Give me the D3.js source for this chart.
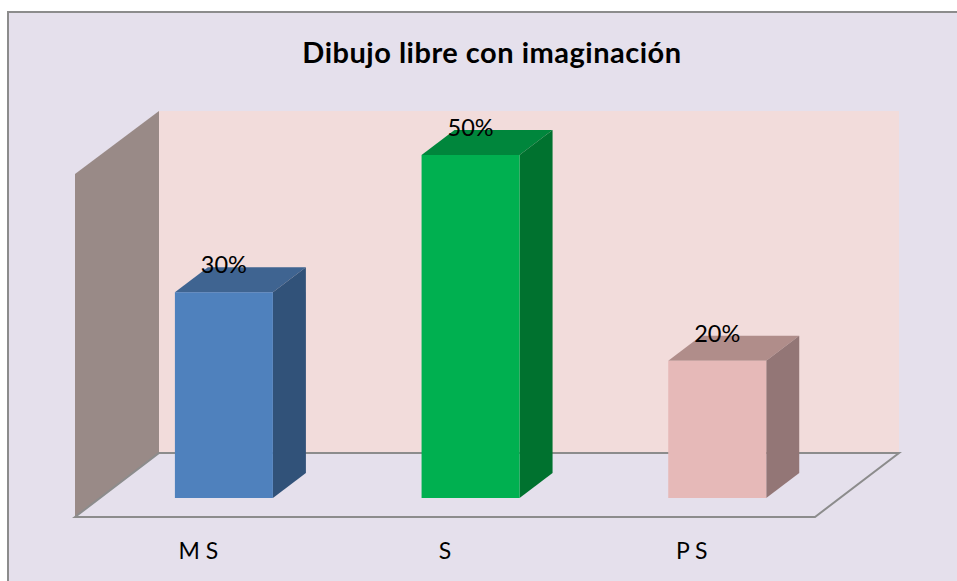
<!DOCTYPE html>
<html>
<head>
<meta charset="utf-8">
<script src="https://cdn.jsdelivr.net/npm/d3@7"></script>
<style>
  html, body { margin: 0; padding: 0; background: #e5e0ec; }
  svg { display: block; font-family: Lato, sans-serif; }
</style>
</head>
<body>
<svg id="chart" width="957" height="581"></svg>
<script>
let categories = ["M S", "S", "P S"];
let values = [30, 50, 20];
let barColors = ["#4f81bd", "#00b050", "#e6b9b8"];
let topColors = ["#3f6491", "#00863c", "#b08d8a"];
let sideColors = ["#315279", "#00722f", "#937676"];
let chartTitle = "Dibujo libre con imaginación";

let svg = d3.select("#chart");

// chart area, only the top and left edges of the frame are in the picture
svg.append("rect")
    .attr("width", 957).attr("height", 581)
    .attr("fill", "#fff");
svg.append("rect")
    .attr("x", 8).attr("y", 12)
    .attr("width", 949).attr("height", 569)
    .attr("fill", "#e5e0ec");
svg.append("path")
    .attr("d", d3.line()([[8, 581], [8, 12], [957, 12]]))
    .attr("fill", "none").attr("stroke", "#8c8c8c").attr("stroke-width", 2);

svg.append("text")
    .attr("x", 492).attr("y", 62.5)
    .attr("text-anchor", "middle")
    .attr("font-size", 29).attr("font-weight", 700)
    .attr("letter-spacing", 0.5)
    .attr("fill", "#000")
    .text(chartTitle);

// 3d offset of the back wall from the front plane
let depthX = 84;
let barDepthX = 33, barDepthY = -25;

let x = d3.scaleBand().domain(categories).range([75, 815]);
let yFront = d3.scaleLinear().domain([0, 50]).range([517, 174]);
let yBack = d3.scaleLinear().domain([0, 50]).range([453, 111]);
let yBar = d3.scaleLinear().domain([0, 50]).range([498, 155]);

let line = d3.line();
let x0 = x.range()[0], x1 = x.range()[1];

// back wall
svg.append("path")
    .attr("d", line([[x0 + depthX, yBack(50)], [x1 + depthX, yBack(50)], [x1 + depthX, yBack(0)], [x0 + depthX, yBack(0)]]) + "Z")
    .attr("fill", "#f2dcdb");

// side wall
svg.append("path")
    .attr("d", line([[x0, yFront(50)], [x0 + depthX, yBack(50)], [x0 + depthX, yBack(0)], [x0, yFront(0)]]) + "Z")
    .attr("fill", "#998a87");

// floor outline
svg.append("path")
    .attr("d", line([[x0, yFront(0)], [x0 + depthX, yBack(0)], [x1 + depthX, yBack(0)], [x1, yFront(0)]]) + "Z")
    .attr("fill", "#e5e0ec").attr("stroke", "#8c8c8c").attr("stroke-width", 2);

// bars
let bars = svg.selectAll(".bar").data(categories).enter()
    .append("g").attr("class", "bar");

let barWidth = 98;
let barLeft = c => x(c) + x.bandwidth() / 2 + barDepthX * 0.79 - barWidth / 2 - 0.5;

bars.append("path")
    .attr("d", (c, i) => {
        let l = barLeft(c), t = yBar(values[i]);
        return line([[l, t], [l + barDepthX, t + barDepthY], [l + barWidth + barDepthX, t + barDepthY], [l + barWidth, t]]) + "Z";
    })
    .attr("fill", (c, i) => topColors[i]);

bars.append("path")
    .attr("d", (c, i) => {
        let l = barLeft(c) + barWidth, t = yBar(values[i]), b = yBar(0);
        return line([[l, t], [l + barDepthX, t + barDepthY], [l + barDepthX, b + barDepthY], [l, b]]) + "Z";
    })
    .attr("fill", (c, i) => sideColors[i]);

bars.append("rect")
    .attr("x", c => barLeft(c))
    .attr("y", (c, i) => yBar(values[i]))
    .attr("width", barWidth)
    .attr("height", (c, i) => yBar(0) - yBar(values[i]))
    .attr("fill", (c, i) => barColors[i]);

// value labels
bars.append("text")
    .attr("x", c => barLeft(c) + 49)
    .attr("y", (c, i) => yBar(values[i]) - 19)
    .attr("text-anchor", "middle")
    .attr("font-size", 23.5)
    .attr("fill", "#000")
    .text((c, i) => values[i] + "%");

// category labels
svg.selectAll(".cat").data(categories).enter()
    .append("text").attr("class", "cat")
    .attr("x", c => x(c) + x.bandwidth() / 2)
    .attr("y", 559)
    .attr("text-anchor", "middle")
    .attr("font-size", 23)
    .attr("fill", "#000")
    .text(c => c);
</script>
</body>
</html>
